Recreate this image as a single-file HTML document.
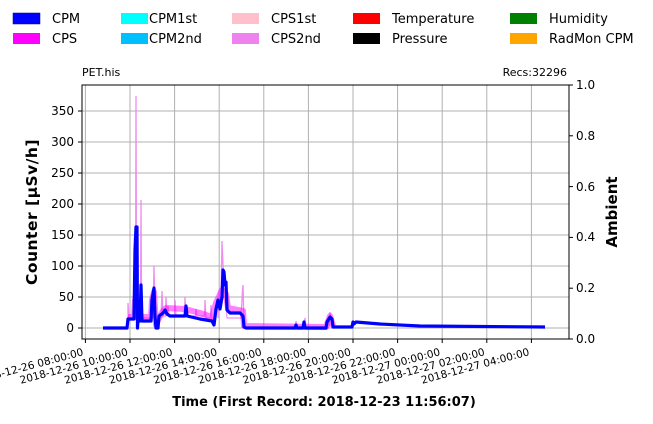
<!DOCTYPE html>
<html><head><meta charset="utf-8"><style>body{margin:0;background:#fff}svg{display:block;font-family:"DejaVu Sans","Liberation Sans",sans-serif}</style></head><body>
<svg width="653" height="424" viewBox="0 0 653 424">
<g font-size="13" fill="#000">
<rect x="13" y="13" width="27" height="11" fill="#0000ff" stroke="#0000aa" stroke-width="0.5"/><text x="52" y="23">CPM</text>
<rect x="13" y="33" width="27" height="11" fill="#ff00ff"/><text x="52" y="43">CPS</text>
<rect x="121" y="13" width="27" height="11" fill="#00ffff"/><text x="149" y="23">CPM1st</text>
<rect x="121" y="33" width="27" height="11" fill="#00bfff"/><text x="149" y="43">CPM2nd</text>
<rect x="232" y="13" width="27" height="11" fill="#ffc0cb"/><text x="271" y="23">CPS1st</text>
<rect x="232" y="33" width="27" height="11" fill="#ee82ee"/><text x="271" y="43">CPS2nd</text>
<rect x="353" y="13" width="27" height="11" fill="#ff0000"/><text x="392" y="23">Temperature</text>
<rect x="353" y="33" width="27" height="11" fill="#000000"/><text x="392" y="43">Pressure</text>
<rect x="510" y="13" width="27" height="11" fill="#008000"/><text x="549" y="23">Humidity</text>
<rect x="510" y="33" width="27" height="11" fill="#ffa500"/><text x="549" y="43">RadMon CPM</text>
</g>
<text x="82" y="76" font-size="11">PET.his</text>
<text x="567" y="76" font-size="11" text-anchor="end">Recs:32296</text>
<g stroke="#b0b0b0" stroke-width="1">
<line x1="82" x2="569" y1="328" y2="328"/><line x1="82" x2="569" y1="297" y2="297"/><line x1="82" x2="569" y1="266" y2="266"/><line x1="82" x2="569" y1="235" y2="235"/><line x1="82" x2="569" y1="204" y2="204"/><line x1="82" x2="569" y1="173" y2="173"/><line x1="82" x2="569" y1="142" y2="142"/><line x1="82" x2="569" y1="111" y2="111"/>
<line y1="85" y2="339" x1="85.4" x2="85.4"/><line y1="85" y2="339" x1="130" x2="130"/><line y1="85" y2="339" x1="174.6" x2="174.6"/><line y1="85" y2="339" x1="219.2" x2="219.2"/><line y1="85" y2="339" x1="263.8" x2="263.8"/><line y1="85" y2="339" x1="308.4" x2="308.4"/><line y1="85" y2="339" x1="353" x2="353"/><line y1="85" y2="339" x1="397.6" x2="397.6"/><line y1="85" y2="339" x1="442.2" x2="442.2"/><line y1="85" y2="339" x1="486.8" x2="486.8"/><line y1="85" y2="339" x1="531.4" x2="531.4"/>
</g>
<g fill="none" stroke="#ee82ee" stroke-width="1.3" opacity="0.9">
<polyline points="128,318 128,303 129,318 135.5,318 136,96 136.6,318 140.5,318 141,200 141.6,318 153,318 154,266 154.8,300"/>
<polyline points="161,318 162,291 163,316 165.5,316 166,297 167,316 168,306 169,316 174.5,316 175,300 176,316 184.5,316 185,297 186,316 195.5,316 196,309 197,316 204.5,316 205,300 206,318 210.5,318 211,305 212,320"/>
<polyline points="218,318 219,290 220,310 221,300 222,241 223,265 224,285 225,275 226,300 227,318 241,318 242.5,290 243,285 243.8,318"/>
<polyline points="296,328 296,321 297,328 304,328 305,318 306,328 329,328 330,312 331,320"/>
</g>
<polyline fill="none" stroke="#ff00ff" stroke-width="6" opacity="0.5" stroke-linejoin="round" points="128,317 134,317 135,300 137,317 151,317 152,300 154,292 156,325 158,320 163,311 166,308 185,309 200,313 212,317 216,303 222,290 226,294 228,308 243,311 244,326 326,327 330,316 333,326"/>
<polyline fill="none" stroke="#0000ff" stroke-width="3.2" stroke-linejoin="round" points="103,328 127,328 128,319 134,319 135,250 136,227 137,227 137.5,328 138,319 140,321 141,285 142,321 151,321 152,300 154,288 155,316 156,328 158,328 159,316 163,313 165,310 167,314 170,316 185,316 186,306 187,316 200,319 212,321 214,325 216,309 218,300 220,309 222,297 223,270 224,272 225,285 226,282 227,310 230,313 240,313 243,316 244,327 246,328 295,328 296,325 297,328 303,328 304,322 305,328 326,328 327,322 330,317 332,319 333,327 352,327 353,322 354,324 356,322 380,324 420,326 545,327"/>
<rect x="82" y="85" width="487" height="254" fill="none" stroke="#000" stroke-width="1"/>
<g font-size="12" text-anchor="end">
<text x="74" y="332">0</text><text x="74" y="301">50</text><text x="74" y="270">100</text><text x="74" y="239">150</text><text x="74" y="208">200</text><text x="74" y="177">250</text><text x="74" y="146">300</text><text x="74" y="115">350</text>
</g>
<g stroke="#000"><line x1="78" x2="82" y1="328" y2="328"/><line x1="78" x2="82" y1="297" y2="297"/><line x1="78" x2="82" y1="266" y2="266"/><line x1="78" x2="82" y1="235" y2="235"/><line x1="78" x2="82" y1="204" y2="204"/><line x1="78" x2="82" y1="173" y2="173"/><line x1="78" x2="82" y1="142" y2="142"/><line x1="78" x2="82" y1="111" y2="111"/>
<line x1="569" x2="573" y1="339" y2="339"/><line x1="569" x2="573" y1="288.2" y2="288.2"/><line x1="569" x2="573" y1="237.4" y2="237.4"/><line x1="569" x2="573" y1="186.6" y2="186.6"/><line x1="569" x2="573" y1="135.8" y2="135.8"/><line x1="569" x2="573" y1="85" y2="85"/></g>
<g font-size="12"><text x="576" y="343">0.0</text><text x="576" y="292">0.2</text><text x="576" y="241">0.4</text><text x="576" y="191">0.6</text><text x="576" y="140">0.8</text><text x="576" y="89">1.0</text></g>
<g stroke="#000"><line y1="339" y2="343" x1="85.4" x2="85.4"/><line y1="339" y2="343" x1="130" x2="130"/><line y1="339" y2="343" x1="174.6" x2="174.6"/><line y1="339" y2="343" x1="219.2" x2="219.2"/><line y1="339" y2="343" x1="263.8" x2="263.8"/><line y1="339" y2="343" x1="308.4" x2="308.4"/><line y1="339" y2="343" x1="353" x2="353"/><line y1="339" y2="343" x1="397.6" x2="397.6"/><line y1="339" y2="343" x1="442.2" x2="442.2"/><line y1="339" y2="343" x1="486.8" x2="486.8"/><line y1="339" y2="343" x1="531.4" x2="531.4"/></g>
<g font-size="10.5" text-anchor="end">
<text transform="translate(84,355) rotate(-15)">2018-12-26  08:00:00</text>
<text transform="translate(128.6,355) rotate(-15)">2018-12-26  10:00:00</text>
<text transform="translate(173.2,355) rotate(-15)">2018-12-26  12:00:00</text>
<text transform="translate(217.8,355) rotate(-15)">2018-12-26  14:00:00</text>
<text transform="translate(262.4,355) rotate(-15)">2018-12-26  16:00:00</text>
<text transform="translate(307,355) rotate(-15)">2018-12-26  18:00:00</text>
<text transform="translate(351.6,355) rotate(-15)">2018-12-26  20:00:00</text>
<text transform="translate(396.2,355) rotate(-15)">2018-12-26  22:00:00</text>
<text transform="translate(440.8,355) rotate(-15)">2018-12-27  00:00:00</text>
<text transform="translate(485.4,355) rotate(-15)">2018-12-27  02:00:00</text>
<text transform="translate(530,355) rotate(-15)">2018-12-27  04:00:00</text>
</g>
<text x="324" y="406" font-size="13" font-weight="bold" text-anchor="middle">Time (First Record: 2018-12-23 11:56:07)</text>
<text transform="translate(37,212) rotate(-90)" font-size="15.5" font-weight="bold" text-anchor="middle" letter-spacing="0.5">Counter  [µSv/h]</text>
<text transform="translate(617,212) rotate(-90)" font-size="15" font-weight="bold" text-anchor="middle">Ambient</text>
</svg>
</body></html>
